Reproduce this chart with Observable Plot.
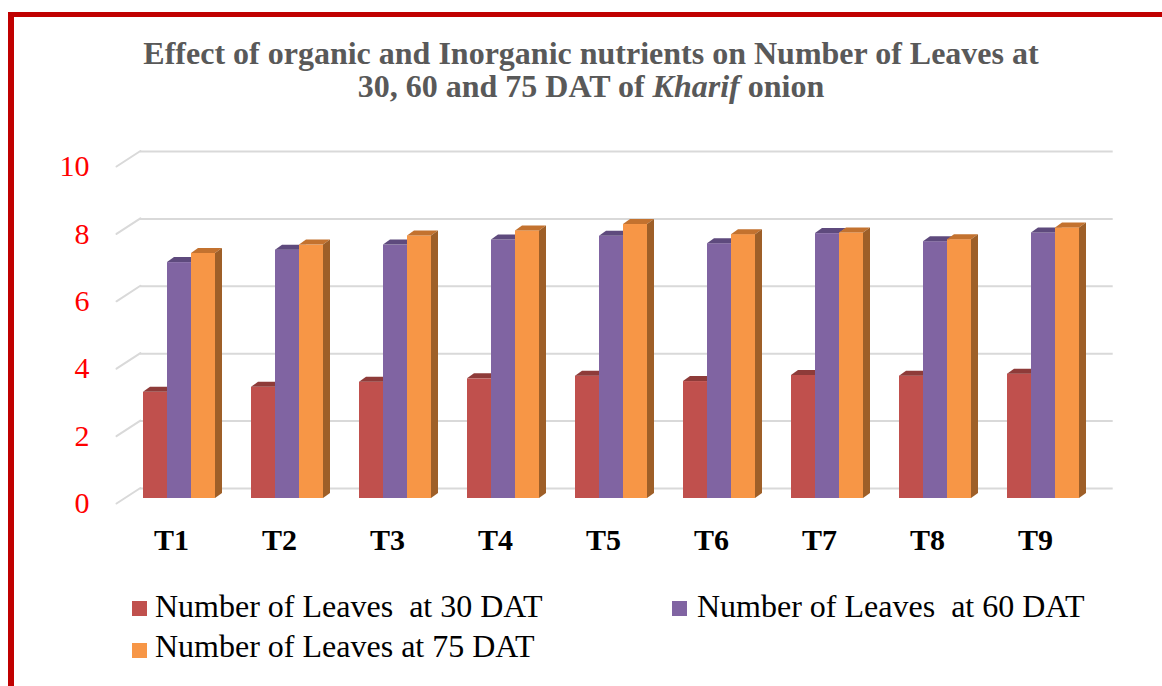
<!DOCTYPE html>
<html>
<head>
<meta charset="utf-8">
<script src="https://cdn.jsdelivr.net/npm/d3@7"></script>
<script src="https://cdn.jsdelivr.net/npm/@observablehq/plot@0.6"></script>
<style>
  html, body { margin: 0; padding: 0; background: #fff; overflow: hidden; }
  #page { position: relative; width: 1162px; height: 686px; overflow: hidden; background: #fff; }
  #frame { position: absolute; left: 8px; top: 12px; width: 2000px; height: 1000px;
           border-left: 6px solid #c00000; border-top: 5px solid #c00000; box-sizing: border-box; }
  #title { position: absolute; left: 0; top: 36.7px; width: 1182px; text-align: center;
           font-family: "Liberation Serif", "Times New Roman", serif; font-weight: bold;
           font-size: 32px; line-height: 33px; color: #595959; }
  #chart { position: absolute; left: 0; top: 120px; }
  .lg { position: absolute; font-family: "Liberation Serif", "Times New Roman", serif;
        font-size: 32px; line-height: 32px; color: #000; white-space: pre; }
  .sw { position: absolute; width: 15px; height: 15px; }
</style>
</head>
<body>
<div id="page">
  <div id="frame"></div>
  <div id="title">Effect of organic and Inorganic nutrients on Number of Leaves at<br>30, 60 and 75 DAT of <i>Kharif</i> onion</div>
  <div id="chart"></div>
  <div id="legend"></div>
</div>
<script>
const treatments = ["T1", "T2", "T3", "T4", "T5", "T6", "T7", "T8", "T9"];
const leaves30 = [3.15, 3.30, 3.45, 3.55, 3.63, 3.47, 3.65, 3.63, 3.69];
const leaves60 = [7.00, 7.37, 7.52, 7.67, 7.78, 7.56, 7.86, 7.62, 7.88];
const leaves75 = [7.27, 7.52, 7.79, 7.94, 8.13, 7.83, 7.88, 7.68, 8.03];
const yTicks = [0, 2, 4, 6, 8, 10];
const seriesNames = ["Number of Leaves  at 30 DAT", "Number of Leaves  at 60 DAT", "Number of Leaves at 75 DAT"];
const seriesColors = ["#c0504d", "#8064a2", "#f79646"];
const capColors = ["#8e3b39", "#5e4a7d", "#c3722f"];
const sideColor = "#9e5f28";

const data = treatments.map((t, i) => ({t, v30: leaves30[i], v60: leaves60[i], v75: leaves75[i]}));
const keys = ["v30", "v60", "v75"];

const lineShape = {draw(context, l) { context.moveTo(0, 0); context.lineTo(0, -l); }};

const marks = [
  Plot.ruleY(yTicks, {y: d => d, stroke: "#d9d9d9", strokeWidth: 2, insetLeft: 31.5, dy: -10}),
  Plot.vector(yTicks, {y: d => d, frameAnchor: "left", dx: 7.5, dy: 5, length: 28.5, rotate: 57,
                       anchor: "start", stroke: "#d9d9d9", strokeWidth: 2, shape: lineShape})
];
keys.forEach((k, i) => {
  marks.push(Plot.barY(data, {x: "t", y: k, fill: seriesColors[i], insetLeft: 24 * i, insetRight: 48 - 24 * i}));
  marks.push(Plot.barY(data, {x: "t", y1: k, y2: k, fill: capColors[i], insetLeft: 24 * i, insetRight: 48 - 24 * i,
                              insetTop: -5, ariaDescription: "cap"}));
});
marks.push(Plot.barY(data, {x: "t", y: "v75", fill: sideColor, insetLeft: 72, insetRight: -7, ariaDescription: "side"}));
marks.push(Plot.axisY(yTicks, {anchor: "left", tickSize: 0, tickPadding: 19.5, dy: 5, fontSize: 30,
                               fontFamily: "Liberation Serif", color: "#ff0000", label: null}));
marks.push(Plot.axisX({tickSize: 0, tickPadding: 30, fontSize: 30, fontWeight: "bold", dx: -8,
                       fontFamily: "Liberation Serif", color: "#000", label: null}));

const chart = Plot.plot({
  width: 1162,
  height: 440,
  marginLeft: 108.5,
  marginRight: 49.3,
  marginTop: 41,
  marginBottom: 62,
  style: {background: "transparent", fontFamily: "Liberation Serif"},
  x: {domain: treatments, paddingInner: 0.336, paddingOuter: 0.3},
  y: {domain: [0, 10]},
  marks
});
document.getElementById("chart").appendChild(chart);

d3.select(chart).selectAll('g[aria-description="cap"] rect')
  .style("transform-box", "fill-box").style("transform-origin", "left bottom").style("transform", "skewX(-54.5deg)");
d3.select(chart).selectAll('g[aria-description="side"] rect')
  .style("transform-box", "fill-box").style("transform-origin", "left bottom").style("transform", "skewY(-35.5deg)");

// legend
const legendPos = [[131.5, 601, 155, 590.2], [672, 601, 697, 590.2], [131.5, 643, 155, 630.2]];
const legend = document.getElementById("legend");
seriesNames.forEach((name, i) => {
  const [sx, sy, tx, ty] = legendPos[i];
  const sw = document.createElement("div");
  sw.className = "sw";
  sw.style.left = sx + "px"; sw.style.top = sy + "px"; sw.style.background = seriesColors[i];
  legend.appendChild(sw);
  const tx_ = document.createElement("div");
  tx_.className = "lg";
  tx_.style.left = tx + "px"; tx_.style.top = ty + "px";
  tx_.textContent = name;
  legend.appendChild(tx_);
});
</script>
</body>
</html>
